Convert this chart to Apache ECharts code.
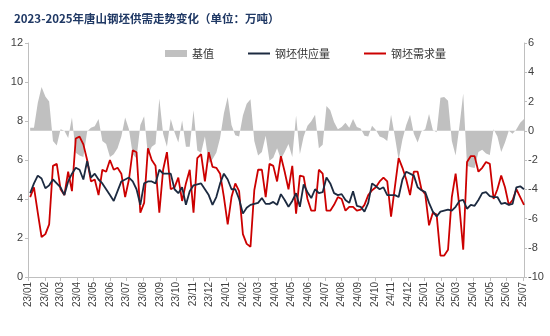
<!DOCTYPE html>
<html><head><meta charset="utf-8">
<script src="https://cdn.jsdelivr.net/npm/echarts@6/dist/echarts.min.js"></script>
<style>html,body{margin:0;padding:0;background:#fff}#c{width:550px;height:336px}</style>
</head><body><div id="c"></div>
<script>
// weekly observations, first on 2023-01-05, one every 7 days
const firstDate = '2023-01-05';
const axisStartDate = '2023-01-01';
const axisEndDate = '2025-07-03';
const seriesNames = ['基值', '钢坯供应量', '钢坯需求量'];
const supply = [4.3,4.8,5.2,5.05,4.55,4.7,5.0,4.8,4.6,4.2,4.9,5.3,5.6,5.5,5.0,5.95,5.1,5.3,5.0,4.8,
4.5,4.2,3.9,4.4,4.9,5.0,5.1,4.9,4.5,3.7,4.8,4.9,4.9,4.8,5.5,5.3,5.3,5.3,4.5,4.3,
4.6,3.7,4.4,4.7,4.75,4.8,4.5,4.2,3.7,4.1,4.8,5.3,5.0,4.5,4.5,4.0,3.25,3.55,3.7,3.75,
3.8,4.05,3.75,3.75,3.85,3.7,4.25,3.95,3.6,3.9,4.3,3.6,4.75,4.35,4.05,4.5,4.3,4.35,5.1,4.8,
4.3,4.2,4.25,3.95,3.8,4.4,3.65,3.6,3.35,3.8,4.8,4.65,4.5,4.6,4.2,4.2,4.2,4.1,5.0,5.4,
5.3,5.2,4.6,4.45,4.35,3.8,3.35,3.1,3.35,3.4,3.45,3.4,3.6,3.9,3.95,3.5,3.7,3.65,3.95,4.3,
4.35,4.15,4.1,4.1,3.75,3.8,3.7,3.75,4.6,4.65,4.5];
const demand = [4.1,4.6,3.3,2.05,2.2,2.7,5.7,5.8,4.5,4.2,5.4,4.4,7.1,7.2,6.8,6.0,4.9,5.0,4.2,5.5,
5.4,6.0,5.5,5.6,5.3,4.1,5.0,6.5,6.4,3.3,3.8,6.6,6.0,5.7,3.3,5.5,6.4,4.5,4.6,5.1,
3.9,4.8,5.5,3.3,6.1,6.3,4.9,6.4,5.65,5.6,5.3,4.1,2.7,4.1,4.8,4.4,2.2,1.7,1.55,4.45,
5.5,5.5,4.1,5.8,5.7,4.9,6.2,5.4,4.5,5.7,3.25,5.2,5.15,4.0,3.4,3.4,5.5,5.3,3.4,3.4,
3.7,4.1,4.0,3.4,3.6,3.6,3.4,3.45,3.7,4.2,4.45,4.6,4.9,5.1,4.9,3.1,4.6,6.1,5.6,5.0,
4.2,5.4,5.4,4.5,4.25,2.65,3.3,3.2,1.1,1.1,1.4,4.1,5.3,3.6,1.4,5.9,6.2,6.2,5.4,5.6,
5.9,5.8,4.0,4.5,5.2,4.6,3.7,3.95,4.5,4.1,3.7];
const basis = [0.2,0.2,1.9,3.0,2.35,2.0,-0.7,-1.0,0.1,0.0,-0.5,0.9,-1.5,-1.7,-1.8,-0.05,0.2,0.3,0.8,-0.7,
-0.9,-1.8,-1.6,-1.2,-0.4,0.9,0.1,-1.6,-1.9,0.4,1.0,-1.7,-1.1,-0.9,2.2,-0.2,-1.1,0.8,-0.1,-0.8,
0.7,-1.1,-1.1,1.4,-1.35,-1.5,-0.4,-2.2,-1.95,-1.5,-0.5,1.2,2.3,0.4,-0.3,-0.4,1.05,1.85,2.15,-0.7,
-1.7,-1.45,-0.35,-2.05,-1.85,-1.2,-1.95,-1.45,-0.9,-1.8,1.05,-1.6,-0.4,0.35,0.65,1.1,-1.2,-0.95,1.7,1.4,
0.6,0.1,0.25,0.55,0.2,0.8,0.25,0.15,-0.35,-0.4,0.35,0.05,-0.4,-0.5,-0.7,1.1,-0.4,-2.0,-0.6,0.4,
1.1,-0.2,-0.8,-0.05,0.1,1.15,0.05,-0.1,2.25,2.3,2.05,-0.7,-1.7,0.3,2.55,-2.4,-2.5,-2.55,-1.45,-1.3,
-1.55,-1.65,0.1,-0.4,-1.45,-0.8,0.0,-0.2,0.1,0.55,0.8];
const leftAxis = {min: 0, max: 12, interval: 2};
const rightAxis = {min: -10, max: 6, interval: 2};

const DAY = 86400000;
const toUTC = s => { const p = s.split('-').map(Number); return Date.UTC(p[0], p[1]-1, p[2]); };
const t0 = toUTC(axisStartDate), t1 = toUTC(axisEndDate);
const days = [];
for (let t = t0; t <= t1; t += DAY) days.push(new Date(t).toISOString().slice(0, 10));
const firstIdx = (toUTC(firstDate) - t0) / DAY;
const pairs = arr => arr.map((v, i) => [firstIdx + i * 7, v]);
const isMonthStart = (i, v) => v.slice(8) === '01';

const numFont = 'Liberation Sans, Arial, sans-serif';
const cjkFont = 'Noto Sans CJK SC, sans-serif';
const axisGray = '#bfbfbf';
const lineIcon = 'path://M0,0H22V2H0Z';

const chart = echarts.init(document.getElementById('c'));
chart.setOption({
  backgroundColor: '#fff',
  animation: false,
  title: {
    text: '2023-2025年唐山钢坯供需走势变化（单位：万吨）',
    left: 9, top: 8,
    textStyle: {fontSize: 11.5, fontWeight: 'bold', color: '#1f3864', fontFamily: cjkFont}
  },
  legend: {
    left: 160, top: 43, itemWidth: 22, itemHeight: 7, itemGap: 34,
    symbolKeepAspect: true,
    textStyle: {fontSize: 11, color: '#333', fontFamily: cjkFont},
    data: [{name: seriesNames[0], icon: 'rect'},
           {name: seriesNames[1], icon: lineIcon},
           {name: seriesNames[2], icon: lineIcon}]
  },
  grid: {left: 28, right: 26, top: 43, bottom: 59},
  xAxis: {
    type: 'category', data: days, boundaryGap: false,
    axisLine: {onZero: false, lineStyle: {color: axisGray}},
    axisTick: {interval: isMonthStart, length: 4, lineStyle: {color: axisGray}},
    axisLabel: {
      interval: isMonthStart, rotate: 90, fontSize: 10, color: '#404040', margin: 5,
      fontFamily: numFont,
      formatter: v => v.slice(2, 4) + '/' + v.slice(5, 7)
    },
    splitLine: {show: false}
  },
  yAxis: [
    {type: 'value', min: leftAxis.min, max: leftAxis.max, interval: leftAxis.interval,
     axisLine: {show: true, lineStyle: {color: axisGray}},
     axisTick: {show: true, length: 3, lineStyle: {color: axisGray}},
     axisLabel: {fontSize: 11, color: '#404040', margin: 5, fontFamily: numFont},
     splitLine: {show: false}},
    {type: 'value', min: rightAxis.min, max: rightAxis.max, interval: rightAxis.interval, position: 'right',
     axisLine: {show: true, lineStyle: {color: axisGray}},
     axisTick: {show: true, length: 3, lineStyle: {color: axisGray}},
     axisLabel: {fontSize: 11, color: '#404040', margin: 4, fontFamily: numFont},
     splitLine: {show: false}}
  ],
  series: [
    {name: seriesNames[0], type: 'line', yAxisIndex: 1, data: pairs(basis),
     symbol: 'none', lineStyle: {width: 0}, itemStyle: {color: '#c0c0c0'},
     areaStyle: {color: '#c0c0c0', opacity: 1}, z: 1},
    {name: seriesNames[1], type: 'line', yAxisIndex: 0, data: pairs(supply),
     symbol: 'none', lineStyle: {width: 1.8, color: '#1c2a40'}, itemStyle: {color: '#1c2a40'}, z: 3},
    {name: seriesNames[2], type: 'line', yAxisIndex: 0, data: pairs(demand),
     symbol: 'none', lineStyle: {width: 1.8, color: '#cc0000'}, itemStyle: {color: '#cc0000'}, z: 2}
  ]
});
</script>
</body></html>
